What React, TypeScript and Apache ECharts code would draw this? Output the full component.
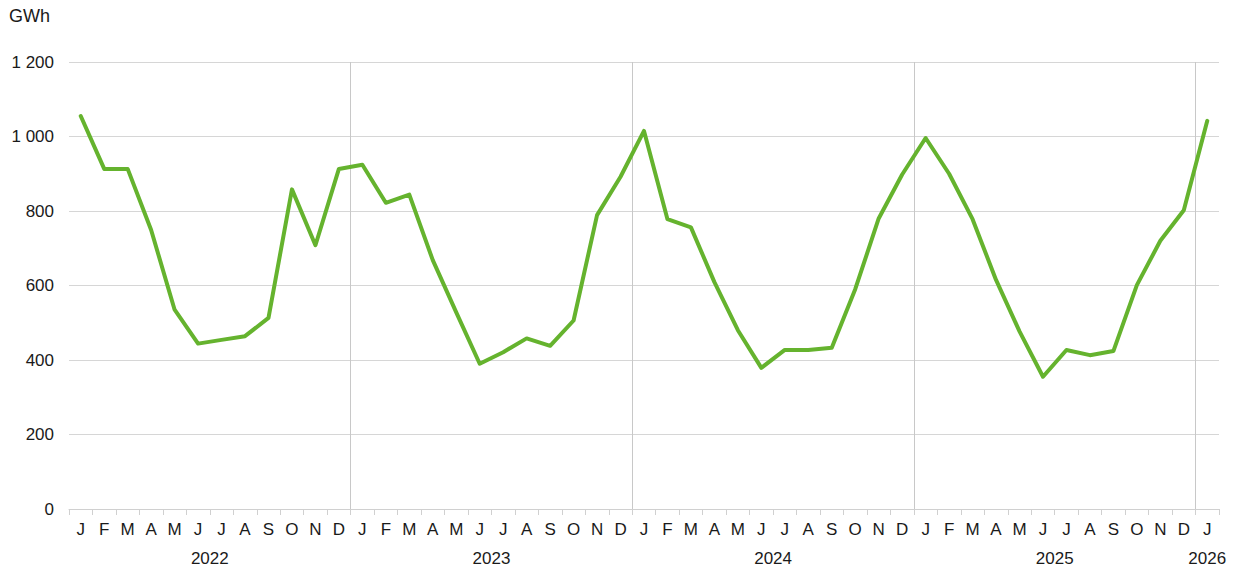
import React, { useEffect, useRef } from "react";
import * as echarts from "echarts";

const monthLabels = ["J", "F", "M", "A", "M", "J", "J", "A", "S", "O", "N", "D"];
const categories: string[] = [];
for (let y = 0; y < 4; y++) for (const m of monthLabels) categories.push(m);
categories.push("J");

const values = [
  1055, 913, 913, 749, 535, 444, 454, 464, 513, 858, 708, 913,
  924, 822, 844, 668, 528, 390, 421, 458, 438, 506, 789, 892,
  1015, 778, 756, 609, 480, 379, 427, 427, 433, 590, 780, 898,
  996, 900, 778, 615, 477, 355, 427, 413, 424, 601, 720, 802,
  1042,
];

const yearLabels = ["2022", "2023", "2024", "2025", "2026"];
const yearLabelPositions = [5.5, 17.5, 29.5, 41.5, 48];
const yearSeparators = [11.5, 23.5, 35.5, 47.5];

const FONT = "'Liberation Sans', Arial, Helvetica, sans-serif";

export default function App() {
  const ref = useRef<HTMLDivElement>(null);
  useEffect(() => {
    document.body.style.margin = "0";
    if (!ref.current) return;
    const chart = echarts.init(ref.current, undefined, { renderer: "svg" });
    chart.setOption({
      animation: false,
      textStyle: { fontFamily: FONT },
      title: {
        text: "GWh",
        left: 9,
        top: 7,
        padding: 0,
        textStyle: { fontSize: 18, fontWeight: "normal", color: "#1a1a1a", fontFamily: FONT },
      },
      grid: { left: 69, right: 21, top: 62, bottom: 62, containLabel: false },
      xAxis: [
        {
          type: "category",
          data: categories,
          boundaryGap: true,
          axisLine: { show: true, lineStyle: { color: "#d0d0d0", width: 1 } },
          axisTick: { show: true, interval: 0, length: 6, lineStyle: { color: "#d0d0d0" } },
          axisLabel: { interval: 0, margin: 12, fontSize: 17, color: "#1a1a1a", fontFamily: FONT },
          splitLine: { show: false },
        },
        {
          type: "value",
          min: -0.5,
          max: 48.5,
          position: "bottom",
          axisLine: { show: false },
          axisTick: { show: false },
          splitLine: { show: false },
          axisLabel: {
            customValues: yearLabelPositions,
            margin: 41,
            fontSize: 17,
            color: "#1a1a1a",
            fontFamily: FONT,
            formatter: (v: number) => {
              const i = yearLabelPositions.findIndex((p) => Math.abs(p - v) < 1e-6);
              return i >= 0 ? yearLabels[i] : "";
            },
          },
        },
      ],
      yAxis: {
        type: "value",
        min: 0,
        max: 1200,
        interval: 200,
        axisLine: { show: false },
        axisTick: { show: false },
        axisLabel: {
          margin: 15,
          fontSize: 17,
          color: "#1a1a1a",
          fontFamily: FONT,
          formatter: (v: number) => String(v).replace(/\B(?=(\d{3})+(?!\d))/g, " "),
        },
        splitLine: { show: true, lineStyle: { color: "#d6d6d6", width: 1 } },
      },
      series: [
        {
          type: "line",
          xAxisIndex: 1,
          data: [],
          silent: true,
          markLine: {
            silent: true,
            symbol: "none",
            label: { show: false },
            lineStyle: { color: "#c8c8c8", type: "solid", width: 1 },
            data: yearSeparators.map((x) => ({ xAxis: x })),
          },
        },
        {
          type: "line",
          xAxisIndex: 0,
          data: values,
          showSymbol: false,
          symbol: "none",
          lineStyle: { color: "#65b32e", width: 4, cap: "round", join: "round" },
          z: 5,
        },
      ],
    });
    return () => chart.dispose();
  }, []);
  return <div ref={ref} style={{ width: 1240, height: 571 }} />;
}
